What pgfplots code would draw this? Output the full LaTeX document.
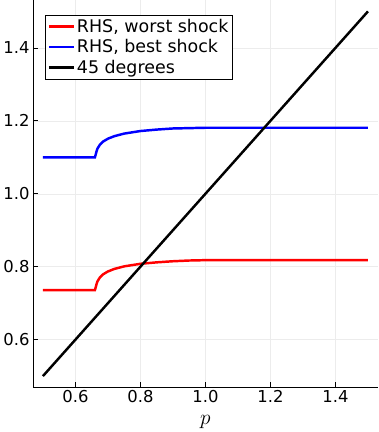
\documentclass[border=0pt]{standalone}
\usepackage{pgfplots}
\pgfplotsset{compat=1.18}
\usepackage{fontspec}
\setmainfont{DejaVu Sans}
\begin{document}
\begin{tikzpicture}
\begin{axis}[
  scale only axis,
  width=336pt, height=377pt,
  xmin=0.47, xmax=1.53, ymin=0.47, ymax=1.53,
  axis lines*=left,
  axis line style={black, line width=0.9pt, -},
  tick align=inside,
  major tick length=5pt,
  tick style={black, line width=0.7pt},
  xtick={0.6,0.8,1.0,1.2,1.4}, ytick={0.6,0.8,1.0,1.2,1.4},
  xticklabels={0.6,0.8,1.0,1.2,1.4}, yticklabels={0.6,0.8,1.0,1.2,1.4},
  ticklabel style={font=\fontsize{16}{17}\selectfont},
  grid=major, grid style={gray!15, line width=0.5pt},
  xlabel={$p$}, xlabel style={font=\fontsize{20}{20}\selectfont, yshift=-5pt},
  legend style={font=\fontsize{17}{18}\selectfont, draw=black, line width=0.8pt, at={(0.035,0.963)}, anchor=north west, inner sep=2pt, row sep=1.5pt, legend cell align=left},
  legend image code/.code={\draw[#1, line width=2.4pt] (0cm,0cm) -- (0.85cm,0cm);},
]
\addplot[red, line width=2.4pt] coordinates {
(0.5,0.736) (0.66,0.736) (0.662,0.742) (0.665,0.752) (0.668,0.760) (0.675,0.770) (0.685,0.779) (0.70,0.787) (0.72,0.794) (0.75,0.801) (0.80,0.808) (0.85,0.812) (0.90,0.815) (0.95,0.817) (1.0,0.818) (1.5,0.818)};
\addlegendentry{RHS, worst shock}
\addplot[blue, line width=2.4pt] coordinates {
(0.5,1.100) (0.66,1.100) (0.662,1.106) (0.665,1.116) (0.668,1.124) (0.675,1.134) (0.685,1.143) (0.70,1.151) (0.72,1.158) (0.75,1.165) (0.80,1.172) (0.85,1.176) (0.90,1.179) (0.95,1.180) (1.0,1.181) (1.5,1.181)};
\addlegendentry{RHS, best shock}
\addplot[black, line width=2.4pt] coordinates {(0.5,0.5) (1.5,1.5)};
\addlegendentry{45 degrees}
\end{axis}
\end{tikzpicture}
\end{document}
